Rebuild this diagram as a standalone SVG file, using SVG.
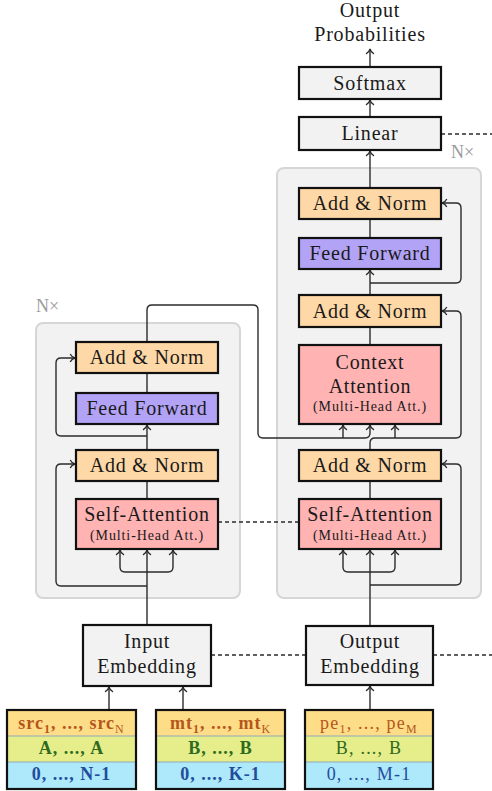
<svg xmlns="http://www.w3.org/2000/svg" width="492" height="791" viewBox="0 0 492 791">
<defs>
<style>
.t{font-family:"Liberation Serif","DejaVu Serif",serif;font-size:20px;letter-spacing:0.8px;fill:#1a1a1a;text-anchor:middle}
.s{font-family:"Liberation Serif","DejaVu Serif",serif;font-size:14px;letter-spacing:0.9px;fill:#1a1a1a;text-anchor:middle}
.nx{font-family:"Liberation Serif","DejaVu Serif",serif;font-size:18px;fill:#9a9a9a}
.r{font-family:"Liberation Serif","DejaVu Serif",serif;font-size:18px;font-weight:bold;letter-spacing:1px;text-anchor:middle}
.rn{font-family:"Liberation Serif","DejaVu Serif",serif;font-size:18px;font-weight:normal;letter-spacing:1.2px;text-anchor:middle}
.box{stroke:#111;stroke-width:2.2}
.gray{fill:#f2f2f2}
.norm{fill:#fed8a6}
.ff{fill:#b3a3f7}
.att{fill:#ffb3b3}
.cont{fill:#f2f2f2;stroke:#d6d6d6;stroke-width:2}
.c{fill:none;stroke:#2b2b2b;stroke-width:1.4}
.d{fill:none;stroke:#2b2b2b;stroke-width:1.3;stroke-dasharray:4 3}
.y{fill:#fedd88}
.g{fill:#e5ee8a}
.b{fill:#aee8fb}
.sep{stroke:#8fa8b8;stroke-width:1}
</style>
<marker id="ar" viewBox="-6 -5 7 10" markerWidth="7" markerHeight="10" refX="0" refY="0" orient="auto" markerUnits="userSpaceOnUse">
<path d="M-4.8,-4 C-3.6,-1.6 -1.6,-0.4 0,0 C-1.6,0.4 -3.6,1.6 -4.8,4" fill="none" stroke="#2b2b2b" stroke-width="1.3"/>
</marker>
</defs>

<!-- containers -->
<g id="encoder-stack">
<rect class="cont" x="36" y="323" width="204" height="275" rx="7"/>
<text class="nx" x="36" y="312">N×</text>
</g>
<g id="decoder-stack">
<rect class="cont" x="277" y="168" width="204" height="430" rx="7"/>
<text class="nx" x="451" y="158">N×</text>
</g>

<!-- connectors -->
<g id="connectors">
<!-- encoder -->
<path class="c" d="M147,625 V550" marker-end="url(#ar)"/>
<path class="c" d="M147,572 H125 Q120,572 120,567 V550" marker-end="url(#ar)"/>
<path class="c" d="M147,572 H168 Q173,572 173,567 V550" marker-end="url(#ar)"/>
<path class="c" d="M147,586 H61 Q56,586 56,581 V469 Q56,464 61,464 H75" marker-end="url(#ar)"/>
<path class="c" d="M147,499 V481"/>
<path class="c" d="M147,450 V425" marker-end="url(#ar)"/>
<path class="c" d="M147,436 H61 Q56,436 56,431 V363 Q56,358 61,358 H75" marker-end="url(#ar)"/>
<path class="c" d="M147,393 V373"/>
<path class="c" d="M147,342 V310 Q147,305 152,305 H253 Q258,305 258,310 V433 Q258,438 263,438 H365 Q370,438 370,433 V425" marker-end="url(#ar)"/>
<path class="c" d="M343,438 V425" marker-end="url(#ar)"/>
<!-- decoder -->
<path class="c" d="M370,626 V550" marker-end="url(#ar)"/>
<path class="c" d="M370,572 H348 Q343,572 343,567 V550" marker-end="url(#ar)"/>
<path class="c" d="M370,572 H390 Q395,572 395,567 V550" marker-end="url(#ar)"/>
<path class="c" d="M370,585 H456 Q461,585 461,580 V469 Q461,464 456,464 H442" marker-end="url(#ar)"/>
<path class="c" d="M370,499 V481"/>
<path class="c" d="M370,450 V443 Q370,438 375,438 H456 Q461,438 461,433 V316 Q461,311 456,311 H442" marker-end="url(#ar)"/>
<path class="c" d="M395,438 V425" marker-end="url(#ar)"/>
<path class="c" d="M370,345 V327"/>
<path class="c" d="M370,295 V270" marker-end="url(#ar)"/>
<path class="c" d="M370,283 H456 Q461,283 461,278 V208 Q461,203 456,203 H442" marker-end="url(#ar)"/>
<path class="c" d="M370,238 V219"/>
<path class="c" d="M370,188 V151" marker-end="url(#ar)"/>
<path class="c" d="M370,117 V100" marker-end="url(#ar)"/>
<path class="c" d="M370,67 V49" marker-end="url(#ar)"/>
<!-- inputs -->
<path class="c" d="M109,709 V687" marker-end="url(#ar)"/>
<path class="c" d="M183,709 V687" marker-end="url(#ar)"/>
<path class="c" d="M370,709 V686" marker-end="url(#ar)"/>
<!-- dashed -->
<path class="d" d="M441,134 H492"/>
<path class="d" d="M218,522 H299"/>
<path class="d" d="M211,655 H306"/>
<path class="d" d="M433,655 H492"/>
</g>

<!-- top label -->
<g id="output-probabilities">
<text class="t" x="370" y="17">Output</text>
<text class="t" x="370" y="41">Probabilities</text>
</g>

<g id="softmax">
<rect class="box gray" x="299" y="67" width="142" height="32"/>
<text class="t" x="370" y="90">Softmax</text>
</g>
<g id="linear">
<rect class="box gray" x="299" y="117" width="142" height="33"/>
<text class="t" x="370" y="140">Linear</text>
</g>

<!-- decoder nodes -->
<g id="dec-addnorm3">
<rect class="box norm" x="299" y="188" width="142" height="31"/>
<text class="t" x="370" y="210">Add &amp; Norm</text>
</g>
<g id="dec-feedforward">
<rect class="box ff" x="299" y="238" width="142" height="31"/>
<text class="t" x="370" y="260">Feed Forward</text>
</g>
<g id="dec-addnorm2">
<rect class="box norm" x="299" y="295" width="142" height="32"/>
<text class="t" x="370" y="318">Add &amp; Norm</text>
</g>
<g id="dec-context-attention">
<rect class="box att" x="299" y="345" width="142" height="79"/>
<text class="t" x="370" y="369">Context</text>
<text class="t" x="370" y="393">Attention</text>
<text class="s" x="370" y="411">(Multi-Head Att.)</text>
</g>
<g id="dec-addnorm1">
<rect class="box norm" x="299" y="450" width="142" height="31"/>
<text class="t" x="370" y="472">Add &amp; Norm</text>
</g>
<g id="dec-self-attention">
<rect class="box att" x="299" y="499" width="142" height="50"/>
<text class="t" x="370" y="521">Self-Attention</text>
<text class="s" x="370" y="540">(Multi-Head Att.)</text>
</g>

<!-- encoder nodes -->
<g id="enc-addnorm2">
<rect class="box norm" x="76" y="342" width="142" height="31"/>
<text class="t" x="147" y="364">Add &amp; Norm</text>
</g>
<g id="enc-feedforward">
<rect class="box ff" x="76" y="393" width="142" height="31"/>
<text class="t" x="147" y="415">Feed Forward</text>
</g>
<g id="enc-addnorm1">
<rect class="box norm" x="76" y="450" width="142" height="31"/>
<text class="t" x="147" y="472">Add &amp; Norm</text>
</g>
<g id="enc-self-attention">
<rect class="box att" x="76" y="499" width="142" height="50"/>
<text class="t" x="147" y="521">Self-Attention</text>
<text class="s" x="147" y="540">(Multi-Head Att.)</text>
</g>

<!-- embeddings -->
<g id="input-embedding">
<rect class="box gray" x="83" y="625" width="128" height="61"/>
<text class="t" x="147" y="648">Input</text>
<text class="t" x="147" y="673">Embedding</text>
</g>
<g id="output-embedding">
<rect class="box gray" x="306" y="626" width="127" height="59"/>
<text class="t" x="370" y="648">Output</text>
<text class="t" x="370" y="673">Embedding</text>
</g>

<!-- input sequences -->
<g id="src-input">
<rect class="y" x="7" y="710" width="129" height="26"/>
<rect class="g" x="7" y="736" width="129" height="26"/>
<rect class="b" x="7" y="762" width="129" height="27"/>
<line class="sep" x1="7" y1="736" x2="136" y2="736"/>
<line class="sep" x1="7" y1="762" x2="136" y2="762"/>
<rect x="7" y="710" width="129" height="79" fill="none" stroke="#111" stroke-width="2.2"/>
<text class="r" x="71.5" y="729" fill="#b5561c">src<tspan font-size="12" dy="4">1</tspan><tspan dy="-4">, ..., src</tspan><tspan font-size="12" dy="4" font-weight="normal">N</tspan></text>
<text class="r" x="71.5" y="754" fill="#2f6a1e">A, ..., A</text>
<text class="r" x="71.5" y="780" fill="#1f4e9c">0, ..., N-1</text>
</g>
<g id="mt-input">
<rect class="y" x="156" y="710" width="129" height="26"/>
<rect class="g" x="156" y="736" width="129" height="26"/>
<rect class="b" x="156" y="762" width="129" height="27"/>
<line class="sep" x1="156" y1="736" x2="285" y2="736"/>
<line class="sep" x1="156" y1="762" x2="285" y2="762"/>
<rect x="156" y="710" width="129" height="79" fill="none" stroke="#111" stroke-width="2.2"/>
<text class="r" x="220.5" y="729" fill="#b5561c">mt<tspan font-size="12" dy="4">1</tspan><tspan dy="-4">, ..., mt</tspan><tspan font-size="12" dy="4" font-weight="normal">K</tspan></text>
<text class="r" x="220.5" y="754" fill="#2f6a1e">B, ..., B</text>
<text class="r" x="220.5" y="780" fill="#1f4e9c">0, ..., K-1</text>
</g>
<g id="pe-input">
<rect class="y" x="305" y="710" width="128" height="26"/>
<rect class="g" x="305" y="736" width="128" height="26"/>
<rect class="b" x="305" y="762" width="128" height="27"/>
<line class="sep" x1="305" y1="736" x2="433" y2="736"/>
<line class="sep" x1="305" y1="762" x2="433" y2="762"/>
<rect x="305" y="710" width="128" height="79" fill="none" stroke="#111" stroke-width="2.2"/>
<text class="rn" x="369" y="729" fill="#b5561c">pe<tspan font-size="12" dy="4">1</tspan><tspan dy="-4">, ..., pe</tspan><tspan font-size="12" dy="4">M</tspan></text>
<text class="rn" x="369" y="754" fill="#2f6a1e">B, ..., B</text>
<text class="rn" x="369" y="780" fill="#1f4e9c">0, ..., M-1</text>
</g>
</svg>
